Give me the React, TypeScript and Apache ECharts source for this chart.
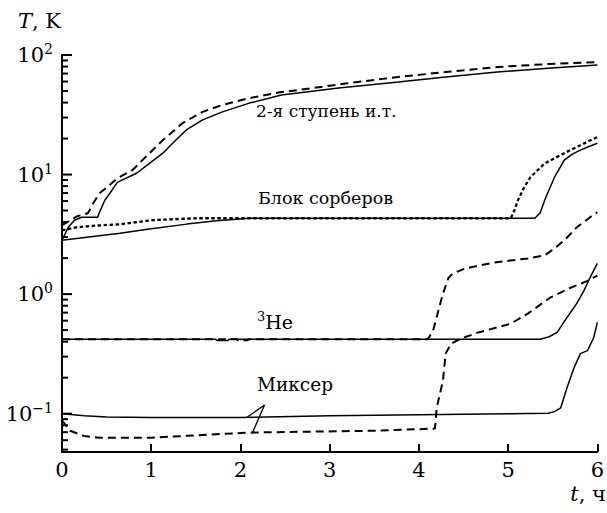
import React, { useEffect, useRef } from "react";
import * as echarts from "echarts";

const FONT = "DejaVu Serif";

const xTicks = [0, 1, 2, 3, 4, 5, 6];

// 2-я ступень и.т.
const stage2Solid: [number, number][] = [
  [0, 2.82], [0.07, 3.62], [0.14, 4.15], [0.22, 4.4], [0.4, 4.4], [0.42, 4.84],
  [0.48, 6.1], [0.56, 7.4], [0.62, 8.6], [0.84, 10.3], [0.98, 12.4], [1.13, 15.1],
  [1.24, 18.3], [1.39, 23.5], [1.57, 28.5], [1.79, 33.3], [2.1, 39.6], [2.46, 46.2],
  [3.1, 53], [3.77, 59.4], [4.3, 65.5], [4.88, 72], [5.45, 77.5], [6, 82.4],
];
const stage2Dashed: [number, number][] = [
  [0, 3.77], [0.17, 4.48], [0.29, 4.74], [0.35, 5.75], [0.42, 6.98], [0.5, 7.8],
  [0.62, 9.3], [0.79, 10.9], [0.98, 15.1], [1.13, 19.4], [1.35, 26.9], [1.57, 33.3],
  [1.79, 38.1], [2.1, 43.6], [2.46, 49], [2.65, 51], [3.2, 58], [3.77, 65.5],
  [4.3, 72], [4.88, 79.4], [5.45, 84], [6, 87.3],
];

// Блок сорберов
const sorbSolid: [number, number][] = [
  [0, 2.82], [0.65, 3.23], [0.98, 3.5], [1.4, 3.85], [1.73, 4.1], [2.1, 4.31],
  [3, 4.31], [4, 4.31], [5.3, 4.31], [5.36, 4.8], [5.41, 6.1], [5.47, 7.8],
  [5.52, 9.5], [5.63, 13.2], [5.72, 14.8], [5.81, 16], [5.9, 17.1], [6, 18.3],
];
const sorbDotted: [number, number][] = [
  [0, 3.42], [0.16, 3.62], [0.4, 3.75], [0.65, 3.84], [1.0, 4.15], [1.5, 4.31],
  [3, 4.31], [4, 4.31], [5.03, 4.31], [5.07, 5.0], [5.11, 6.1], [5.18, 7.8],
  [5.25, 9.5], [5.41, 12.4], [5.63, 15.1], [5.81, 17.6], [6, 20.6],
];

// 3He
const he3Solid: [number, number][] = [
  [0, 0.42], [1.72, 0.42], [1.74, 0.41], [1.86, 0.41], [1.88, 0.42], [3, 0.42],
  [4, 0.42], [5.36, 0.42], [5.46, 0.44], [5.55, 0.478], [5.66, 0.638], [5.77, 0.836],
  [5.85, 1.07], [5.92, 1.38], [6, 1.81],
];
const he3Dashed: [number, number][] = [
  [0, 0.42], [1.96, 0.42], [1.97, 0.412], [2.08, 0.412], [2.1, 0.42], [3, 0.42],
  [4.1, 0.42], [4.16, 0.497], [4.21, 0.689], [4.27, 1.01], [4.33, 1.36], [4.38, 1.49],
  [4.52, 1.64], [4.85, 1.84], [5.22, 1.99], [5.41, 2.11], [5.52, 2.41], [5.63, 2.82],
  [5.77, 3.62], [5.92, 4.4], [6, 4.84],
];

// Миксер
const mixSolid: [number, number][] = [
  [0, 0.1], [0.25, 0.096], [0.5, 0.094], [1, 0.093], [2, 0.093], [3, 0.096],
  [4, 0.098], [5, 0.1], [5.45, 0.101], [5.52, 0.104], [5.59, 0.112], [5.66, 0.165],
  [5.74, 0.243], [5.81, 0.318], [5.89, 0.337], [5.96, 0.434], [6, 0.58],
];
const mixDashed: [number, number][] = [
  [0, 0.088], [0.09, 0.072], [0.25, 0.065], [0.42, 0.063], [1, 0.063], [2.1, 0.0695],
  [3.5, 0.072], [4.18, 0.075], [4.2, 0.112], [4.27, 0.189], [4.3, 0.318], [4.36, 0.385],
  [4.47, 0.424], [4.66, 0.476], [5.03, 0.566], [5.22, 0.686], [5.47, 0.933],
  [5.7, 1.13], [5.89, 1.29], [6, 1.43],
];

const yMin = 0.0478;
const yMax = 100;
const majorY = [0.1, 1, 10, 100];
const minorMult = [2, 3, 4, 5, 6, 7, 8, 9];

export default function App() {
  const ref = useRef<HTMLDivElement>(null);
  useEffect(() => {
    if (!ref.current) return;
    const chart = echarts.init(ref.current, undefined, { renderer: "svg" });

    const tickData: number[][] = [];
    majorY.forEach((v) => tickData.push([0, v, 1]));
    [0.01, 0.1, 1, 10].forEach((d) =>
      minorMult.forEach((m) => {
        const v = +(d * m).toPrecision(3);
        if (v >= yMin && v <= yMax) tickData.push([0, v, 0]);
      })
    );

    const solid = { color: "#000", width: 1.5, type: "solid" as const };
    const dashed = { color: "#000", width: 2, type: [8, 5] as any };
    const dotted = { color: "#000", width: 2.3, type: [3.5, 2.5] as any };

    const lineSeries = (data: [number, number][], ls: any, extra: any = {}) => ({
      type: "line",
      data,
      showSymbol: false,
      symbol: "none",
      lineStyle: ls,
      silent: true,
      ...extra,
    });

    const txt = (extra: any) => ({ fontFamily: FONT, fill: "#000", ...extra });

    chart.setOption({
      animation: false,
      textStyle: { fontFamily: FONT },
      grid: { left: 62, right: 7, top: 55, bottom: 61, containLabel: false },
      xAxis: {
        type: "value",
        min: 0,
        max: 6,
        interval: 1,
        data: xTicks,
        axisLine: { onZero: false, lineStyle: { color: "#000", width: 2 } },
        axisTick: { inside: true, length: 8, lineStyle: { color: "#000", width: 2 } },
        axisLabel: { color: "#000", fontSize: 21, fontFamily: FONT, margin: 7 },
        splitLine: { show: false },
      },
      yAxis: {
        type: "log",
        logBase: 10,
        min: yMin,
        max: yMax,
        axisLine: { onZero: false, lineStyle: { color: "#000", width: 2 } },
        axisTick: { show: false },
        splitLine: { show: false },
        axisLabel: {
          margin: 9,
          color: "#000",
          fontFamily: FONT,
          fontSize: 21,
          formatter: (v: number) => {
            const l = Math.log10(v);
            const e = Math.round(l);
            if (Math.abs(l - e) > 1e-6) return "";
            return `{b|10}{s|${e < 0 ? "\u2212" + -e : e}}`;
          },
          rich: {
            b: { fontSize: 21, fontFamily: FONT, color: "#000", lineHeight: 26 },
            s: { fontSize: 14, fontFamily: FONT, color: "#000", verticalAlign: "top", lineHeight: 14 },
          },
        },
      },
      series: [
        lineSeries(stage2Solid, solid),
        lineSeries(stage2Dashed, dashed),
        lineSeries(sorbSolid, solid),
        lineSeries(sorbDotted, dotted),
        lineSeries(he3Solid, solid),
        lineSeries(he3Dashed, dashed),
        lineSeries(mixSolid, solid, {
          markLine: {
            silent: true,
            symbol: "none",
            label: { show: false },
            lineStyle: { color: "#000", width: 1.3, type: "solid" },
            data: [
              [{ coord: [2.27, 0.118] }, { coord: [2.07, 0.093] }],
              [{ coord: [2.27, 0.118] }, { coord: [2.13, 0.068] }],
            ],
          },
        }),
        lineSeries(mixDashed, dashed),
        {
          type: "custom",
          silent: true,
          clip: false,
          data: tickData,
          encode: { x: 0, y: 1 },
          renderItem: (_p: any, api: any) => {
            const v = api.value(1);
            const major = api.value(2);
            const p = api.coord([0, v]);
            const len = major ? 10 : 6;
            return {
              type: "line",
              shape: { x1: p[0], y1: p[1], x2: p[0] + len, y2: p[1] },
              style: { stroke: "#000", lineWidth: 2 },
            };
          },
        },
      ],
      graphic: [
        {
          type: "text",
          left: 18,
          top: 10,
          style: txt({
            text: "{i|T}{r|, K}",
            fontSize: 21,
            rich: {
              i: txt({ fontStyle: "italic", fontSize: 21 }),
              r: txt({ fontSize: 21 }),
            },
          }),
        },
        {
          type: "text",
          right: 1,
          top: 483,
          style: txt({
            text: "{i|t}{r|, ч}",
            fontSize: 21,
            rich: {
              i: txt({ fontStyle: "italic", fontSize: 21 }),
              r: txt({ fontSize: 21 }),
            },
          }),
        },
        {
          type: "text",
          left: 256,
          top: 102,
          style: txt({ text: "2-я ступень и.т.", fontSize: 17 }),
        },
        {
          type: "text",
          left: 258,
          top: 189,
          style: txt({ text: "Блок сорберов", fontSize: 17.5 }),
        },
        {
          type: "text",
          left: 257,
          top: 310,
          style: txt({
            text: "{s|3}{n|He}",
            fontSize: 19,
            rich: {
              s: txt({ fontSize: 13, verticalAlign: "top", lineHeight: 13 }),
              n: txt({ fontSize: 19, lineHeight: 24 }),
            },
          }),
        },
        {
          type: "text",
          left: 257,
          top: 375,
          style: txt({ text: "Миксер", fontSize: 18.5 }),
        },
      ],
    });
    return () => chart.dispose();
  }, []);
  return (
    <div
      ref={ref}
      style={{ position: "fixed", left: 0, top: 0, width: 607, height: 513, background: "#fff" }}
    />
  );
}
